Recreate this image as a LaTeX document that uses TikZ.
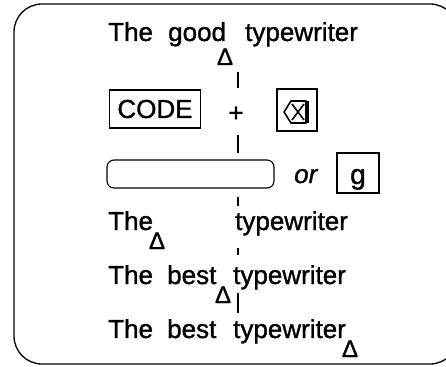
\documentclass[tikz,border=0pt]{standalone}
\usepackage{fontspec}
\setmainfont{Liberation Sans}[FakeBold=1.2]
\newfontfamily\heavyface{Liberation Sans}[FakeBold=1.2]
\newcommand{\rowfont}{\heavyface\fontsize{26}{30}\selectfont}
\newcommand{\keyfont}{\heavyface\fontsize{26}{30}\selectfont}
\newcommand{\caretfont}{\heavyface\fontsize{24}{27}\selectfont}
\tikzset{
  word/.style   = {anchor=base west,inner sep=0pt,font=\rowfont},
  caret/.style  = {anchor=base,inner sep=0pt,font=\caretfont},
  keybox/.style = {draw,line width=1.1pt,inner sep=0pt},
  cursor/.style = {line width=1.1pt},
  frame/.style  = {line width=1.3pt,rounded corners=28pt}
}

\begin{document}
\begin{tikzpicture}[x=1pt,y=-1pt]
  \useasboundingbox (0,0) rectangle (446,366);
  \draw[frame] (14,4) rectangle (458,364);
  % first line
  \node[word] (the1)  at (108,41) {The};
  \node[word] (good)  at (168,41) {good};
  \node[word] (type1) at (245,41) {typewriter};
  \node[caret] (c1)   at (225,65) {Δ};
  % keys
  \node[keybox,minimum width=91pt,minimum height=38pt,font=\keyfont] (code) at (155,109) {CODE};
  \node[font=\rowfont,inner sep=0pt] (plus) at (236,114) {+};
  \node[keybox,minimum width=40pt,minimum height=42pt] (del) at (297,110) {};
  \draw[line width=1.6pt,line join=round] (284,112) -- (291,101) -- (306,101) -- (306,123) -- (291,123) -- cycle;
  \draw[line width=1.6pt] (292,104) -- (304,120) (292,120) -- (304,104);
  \draw[line width=2.6pt] (307.5,101) -- (307.5,123);
  \node[keybox,rounded corners=7pt,minimum width=167pt,minimum height=28pt] (space) at (190.5,174) {};
  \node[word,font=\rowfont\itshape] (or) at (294,183) {or};
  \node[keybox,minimum width=42pt,minimum height=40pt] (gkey) at (358,173) {};
  \node[word,font=\heavyface\fontsize{28}{32}\selectfont] (g) at (350,184) {g};
  % results
  \node[word] (the4)  at (108,230) {The};
  \node[caret] (c4)   at (157,249) {Δ};
  \node[word] (type4) at (235,230) {typewriter};
  \node[word] (the5)  at (108,284) {The};
  \node[word] (best5) at (167,284) {best};
  \node[word] (type5) at (233,284) {typewriter};
  \node[caret] (c5)   at (223,303) {Δ};
  \node[word] (the6)  at (108,338) {The};
  \node[word] (best6) at (167,338) {best};
  \node[word] (type6) at (233,338) {typewriter};
  \node[caret] (c6)   at (350,357) {Δ};
  % cursor
  \foreach \a/\b in {72/88,135/153,197/206,248/255,293/313}
    \draw[cursor] (238,\a) -- (238,\b);
\end{tikzpicture}
\end{document}
